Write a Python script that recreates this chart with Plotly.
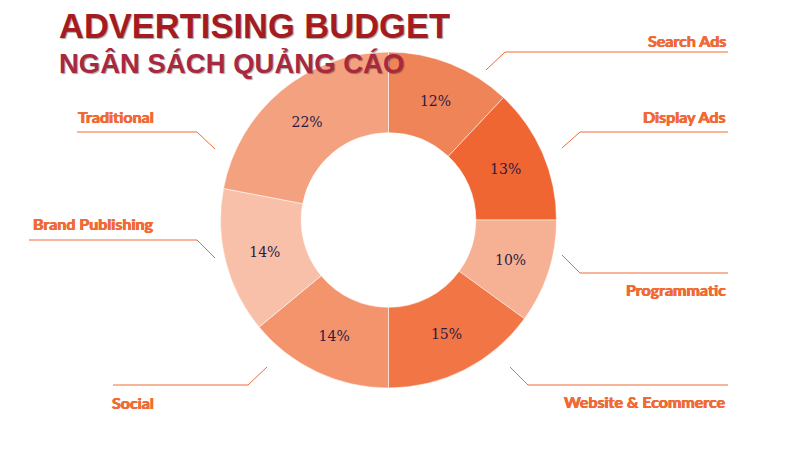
import plotly.graph_objects as go

# budget split, clockwise from 12 o'clock
channels = ["Search Ads", "Display Ads", "Programmatic", "Website & Ecommerce",
            "Social", "Brand Publishing", "Traditional"]
shares = [12, 13, 10, 15, 14, 14, 22]
slice_colors = ["#F08459", "#EF6633", "#F6B093", "#F17545",
                "#F3946D", "#F8BFA9", "#F4A17F"]

title_en = "ADVERTISING BUDGET"
title_vi = "NGÂN SÁCH QUẢNG CÁO"

# page has an 8px body margin, so the figure sits at (8, 8)
OFF = 8
W, H = 800 - 2 * OFF, 454 - 2 * OFF
LABEL_COLOR = "#F06A35"


def paper(x, y):
    return (x - OFF) / W, 1 - (y - OFF) / H


# callout layout (window pixels): text anchor x/y, line y, line outer x, elbow x, tip x/y
callouts = {
    "Search Ads":          dict(tx=728, ty=41,  ly=52,  x0=728, ex=505, px=486, py=70),
    "Display Ads":         dict(tx=728, ty=117, ly=132, x0=728, ex=580, px=562, py=148),
    "Programmatic":        dict(tx=728, ty=289, ly=273, x0=728, ex=580, px=562, py=255),
    "Website & Ecommerce": dict(tx=728, ty=401, ly=385, x0=728, ex=528, px=510, py=367),
    "Social":              dict(tx=156, ty=402, ly=385, x0=113, ex=248, px=267, py=367),
    "Brand Publishing":    dict(tx=156, ty=223, ly=240, x0=29,  ex=197, px=215, py=258),
    "Traditional":         dict(tx=156, ty=116, ly=132, x0=77,  ex=197, px=215, py=149),
}

fig = go.Figure()

dx0, dy0 = paper(220.5, 388)
dx1, dy1 = paper(556.5, 52)

fig.add_trace(go.Pie(
    labels=channels,
    values=shares,
    sort=False,
    direction="clockwise",
    rotation=0,
    hole=0.52,
    marker=dict(colors=slice_colors, line=dict(color="rgba(255,255,255,0.55)", width=1)),
    texttemplate="%{value}%",
    textposition="inside",
    insidetextorientation="horizontal",
    textfont=dict(family="DejaVu Serif", size=14, color="#2D1B44"),
    hoverinfo="label+percent",
    domain=dict(x=[dx0, dx1], y=[dy0, dy1]),
    showlegend=False,
))

# thicken the label strokes a little (reference uses a heavy geometric face)
heavy = "0.45px 0 0 %s, -0.45px 0 0 %s" % (LABEL_COLOR, LABEL_COLOR)

shapes = []
annotations = []
for name in channels:
    c = callouts[name]
    a = paper(c["x0"], c["ly"])
    b = paper(c["ex"], c["ly"])
    t = paper(c["px"], c["py"])
    shapes.append(dict(type="line", xref="paper", yref="paper",
                       x0=a[0], y0=a[1], x1=b[0], y1=b[1],
                       line=dict(color=LABEL_COLOR, width=1)))
    shapes.append(dict(type="line", xref="paper", yref="paper",
                       x0=b[0], y0=b[1], x1=t[0], y1=t[1],
                       line=dict(color=LABEL_COLOR, width=1)))
    lx, ly = paper(c["tx"], c["ty"])
    annotations.append(dict(text="<b>" + name + "</b>", x=lx, y=ly,
                            xref="paper", yref="paper", xanchor="right", yanchor="middle",
                            showarrow=False,
                            font=dict(family="Lato", size=16, color=LABEL_COLOR,
                                      shadow=heavy)))

tx, ty = paper(57, 8)
annotations.append(dict(text="<b>" + title_en + "</b>", x=tx, y=ty,
                        xref="paper", yref="paper", xanchor="left", yanchor="top",
                        height=32, valign="middle",
                        showarrow=False,
                        font=dict(family="Liberation Sans", size=34.5, color="#A51B1F",
                                  shadow="1px 1px 1px rgba(0,0,0,0.35)")))
tx, ty = paper(57, 63)
annotations.append(dict(text="<b>" + title_vi + "</b>", x=tx, y=ty,
                        xref="paper", yref="paper", xanchor="left", yanchor="middle",
                        showarrow=False,
                        font=dict(family="Liberation Sans", size=27.5, color="#A8283F",
                                  shadow="1px 1px 1px rgba(0,0,0,0.35)")))

fig.update_layout(
    width=W, height=H,
    margin=dict(l=0, r=0, t=0, b=0),
    paper_bgcolor="white",
    plot_bgcolor="white",
    shapes=shapes,
    annotations=annotations,
)

fig.write_html("out.html")
